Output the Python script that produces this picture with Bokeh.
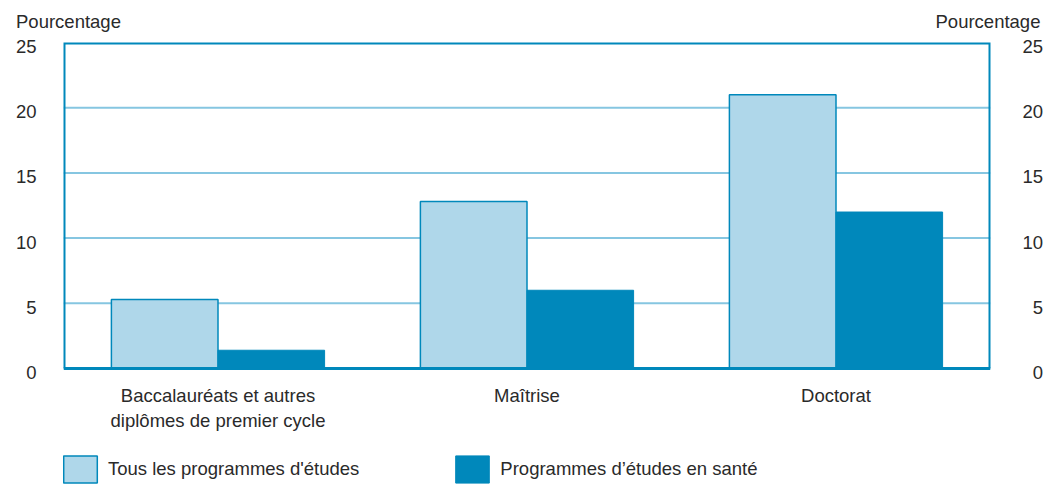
import numpy as np
from bokeh.plotting import figure
from bokeh.models import (ColumnDataSource, Legend, LegendItem, Span,
                          FixedTicker, LinearAxis, Range1d)
from bokeh.core.properties import value
from bokeh.embed import file_html
from bokeh.resources import INLINE

categories = ["Baccalauréats et autres\ndiplômes de premier cycle", "Maîtrise", "Doctorat"]
tous = [5.3, 12.8, 21.0]
sante = [1.4, 6.0, 12.0]
series_names = ["Tous les programmes d'études", "Programmes d’études en santé"]
y_ticks = [0, 5, 10, 15, 20, 25]
y_title = "Pourcentage"

FONT = "Liberation Sans"
FS = "18.5px"
TXT = "#2a2a2a"
LIGHT = "#afd7ea"
DARK = "#0088bb"
GRID = "#86c6e1"

# pixel layout
W, H = 1056, 485
ML, MR, MT = 63, 66, 42
ZERO_PX = 368                      # pixel row of the value 0
FRAME_W = W - ML - MR
Y_MAX = 25
PPU = (ZERO_PX - MT) / Y_MAX       # pixels per percentage point
Y_MIN = -(H - ZERO_PX) / PPU       # frame extends down to the canvas bottom
LABEL_GAP = 16 / PPU               # gap between baseline and category labels
TICK_SHIFT = 4 / PPU               # tick labels sit slightly below their grid line
BAR_W = 0.345
N = len(categories)

centers = np.arange(N) + 0.5
src = ColumnDataSource(dict(x1=centers - BAR_W / 2, x2=centers + BAR_W / 2,
                            tous=tous, sante=sante))
lab_src = ColumnDataSource(dict(x=centers, y=np.full(N, -LABEL_GAP), text=categories))

p = figure(width=W, height=H, x_range=Range1d(0, N), y_range=Range1d(Y_MIN, Y_MAX),
           output_backend="svg", toolbar_location=None, x_axis_location=None,
           y_axis_location=None,
           min_border_left=ML, min_border_right=MR, min_border_top=MT, min_border_bottom=0)
p.title.text = ""
p.background_fill_color = "white"
p.border_fill_color = "white"
p.outline_line_color = None

p.xgrid.grid_line_color = None
p.ygrid.grid_line_color = None
for t in y_ticks[1:-1]:
    p.add_layout(Span(location=t, dimension="width", line_color=GRID, line_width=2,
                      level="underlay"))

r1 = p.vbar(x="x1", top="tous", width=BAR_W, source=src,
            fill_color=LIGHT, line_color=DARK, line_width=1.5)
r2 = p.vbar(x="x2", top="sante", width=BAR_W, source=src,
            fill_color=DARK, line_color=DARK, line_width=1)

# frame: left, top and right sides of the plotting area, plus the heavier baseline
p.line(x=[0, 0, N, N], y=[0, Y_MAX, Y_MAX, 0], line_color=DARK, line_width=4,
       line_join="miter")
p.add_layout(Span(location=0, dimension="width", line_color=DARK, line_width=3))

# category labels under the baseline
p.text(x="x", y="y", text="text", source=lab_src, text_font=value(FONT),
       text_font_size=value(FS), text_color=TXT, text_align="center",
       text_baseline="top", text_line_height=1.2)


def style_axis(ax, standoff):
    ax.axis_line_color = None
    ax.major_tick_line_color = None
    ax.major_tick_in = 0
    ax.major_tick_out = 0
    ax.minor_tick_line_color = None
    ax.major_label_text_font = FONT
    ax.major_label_text_font_size = FS
    ax.major_label_text_color = TXT
    ax.major_label_standoff = standoff


# y axes on a range shifted a few pixels so labels sit just under their lines
p.extra_y_ranges = {"lab": Range1d(Y_MIN + TICK_SHIFT, Y_MAX + TICK_SHIFT)}
la = LinearAxis(y_range_name="lab", ticker=FixedTicker(ticks=y_ticks))
style_axis(la, 27)
p.add_layout(la, "left")

ra = LinearAxis(y_range_name="lab", ticker=FixedTicker(ticks=y_ticks),
                major_label_overrides={t: ("\u2007" + str(t)) if t < 10 else str(t) for t in y_ticks})
style_axis(ra, 32)
p.add_layout(ra, "right")

# top "axis" carrying the two axis titles (left and right ends of the frame)
p.extra_x_ranges = {"px": Range1d(0, FRAME_W)}
title_pos = [5, FRAME_W - 2.5]
ta = LinearAxis(x_range_name="px", ticker=FixedTicker(ticks=title_pos),
                major_label_overrides={title_pos[0]: y_title, title_pos[1]: y_title})
style_axis(ta, 11)
p.add_layout(ta, "above")

# legend glyphs are drawn at 80% of their box, so the box is enlarged accordingly
legend = Legend(items=[LegendItem(label=series_names[0], renderers=[r1]),
                       LegendItem(label=series_names[1], renderers=[r2])],
                orientation="horizontal", location=(-4, -1),
                glyph_width=42, glyph_height=34, label_standoff=7, spacing=92,
                padding=0, margin=0, border_line_color=None, background_fill_alpha=0,
                label_text_font=FONT, label_text_font_size=FS, label_text_color=TXT)
p.add_layout(legend, "center")

open("out.html", "w").write(file_html(p, INLINE))
